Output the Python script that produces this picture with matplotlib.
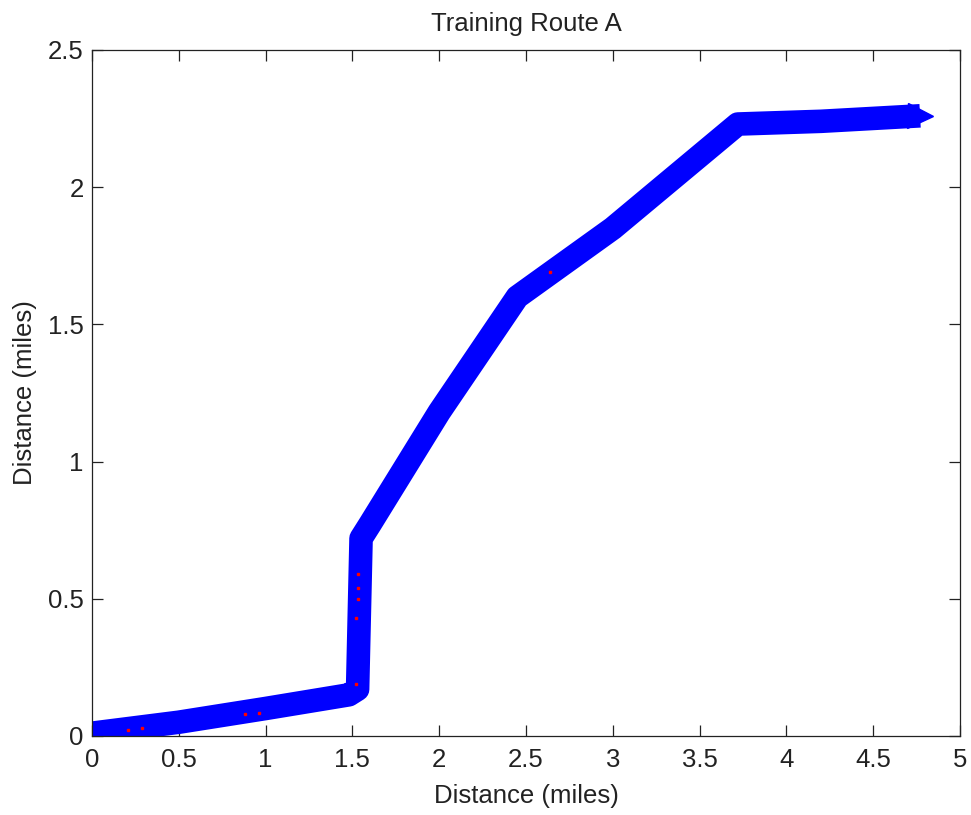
import matplotlib
matplotlib.use("Agg")
import matplotlib.pyplot as plt

# route vertices (miles)
route_x = [0.0, 0.5, 1.0, 1.48, 1.53, 1.55, 1.6, 2.0, 2.45, 3.0, 3.72, 4.2, 4.77]
route_y = [0.01, 0.05, 0.1, 0.15, 0.17, 0.72, 0.77, 1.18, 1.6, 1.85, 2.23, 2.24, 2.26]

# red sample points visible inside the band
red_x = [0.21, 0.29, 0.88, 0.96, 1.53, 1.53, 1.53, 1.52, 1.52, 2.64]
red_y = [0.02, 0.03, 0.08, 0.085, 0.59, 0.54, 0.50, 0.43, 0.19, 1.69]

xticks = [0, 0.5, 1, 1.5, 2, 2.5, 3, 3.5, 4, 4.5, 5]
yticks = [0, 0.5, 1, 1.5, 2, 2.5]

plt.rcParams['font.family'] = ['Liberation Sans', 'DejaVu Sans']
txt = '#222222'

fig = plt.figure(figsize=(9.71, 8.15), dpi=100)
ax = fig.add_axes([0.0947, 0.097, 0.894, 0.8417])

ax.plot(route_x, route_y, color='#0000ff', linewidth=17, solid_capstyle='butt',
        solid_joinstyle='round')
ax.plot(route_x[-1], route_y[-1], marker='>', color='#0000ff', markersize=18)
ax.plot(red_x, red_y, 's', color='red', markersize=1.5, linestyle='none')

ax.set_xlim(0, 5)
ax.set_ylim(0, 2.5)
ax.set_xticks(xticks)
ax.set_yticks(yticks)
ax.set_xticklabels([f"{t:g}" for t in xticks])
ax.set_yticklabels([f"{t:g}" for t in yticks])
ax.tick_params(direction='in', top=True, right=True, labelsize=18.5, length=8,
               width=0.9, colors=txt, labelcolor=txt)
ax.tick_params(axis='x', pad=8.5)
ax.tick_params(axis='y', pad=6)
for s in ax.spines.values():
    s.set_linewidth(0.9)
    s.set_color(txt)

ax.set_xlabel('Distance (miles)', fontsize=18.5, color=txt, labelpad=9)
ax.set_ylabel('Distance (miles)', fontsize=18.5, color=txt, labelpad=8)
ax.set_title('Training Route A', fontsize=18.5, color=txt, pad=14)

fig.savefig("out.png", dpi=100)
